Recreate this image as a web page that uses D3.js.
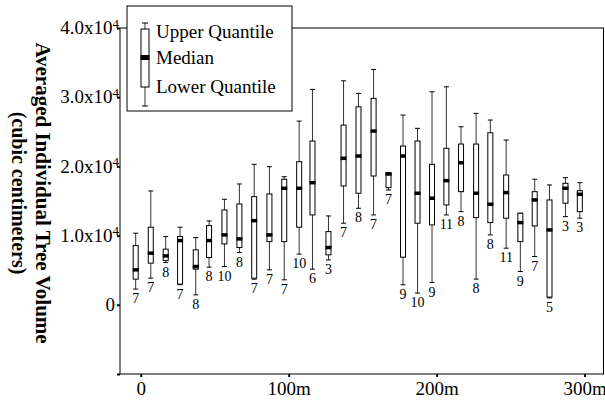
<!DOCTYPE html>
<html>
<head>
<meta charset="utf-8">
<style>
    body { margin: 0; background: #fff; }
    svg text { font-family: "Liberation Serif", "Times New Roman", serif; }
</style>
</head>
<body>
<svg id="chart" width="605" height="401"></svg>
<script src="https://d3js.org/d3.v7.min.js"></script>
<script>
    // distance along the transect (m) and box statistics (cubic cm)
    const positions = [-3.4, 6.8, 16.9, 26.6, 37.2, 46.2, 56.6, 66.7, 76.7, 87.0, 97.0, 107.1, 116.1, 126.9, 137.1, 147.2,
        157.4, 167.5, 177.3, 187.1, 196.9, 206.6, 216.5, 226.7, 236.3, 247.0, 256.6, 266.3, 276.3, 287.1, 296.8]
    const whiskerHigh = [10350, 16450, 9860, 11210, 9710, 12120, 15250, 17460, 20300, 19960, 18510, 26550, 31130, 12840, 32370, 30550,
        34010, 19090, 27420, 25500, 30780, 31500, 25730, 27660, 26700, 23810, 13230, 18140, 17320, 18370, 17650]
    const upperQ = [8560, 11210, 8040, 9860, 7940, 11440, 13710, 14570, 15630, 16020, 18140, 20680, 23670, 10580, 25970, 28610,
        29830, 19090, 22940, 23670, 20300, 22610, 23230, 23230, 24860, 18760, 13230, 16350, 15150, 17560, 16490]
    const median = [5050, 7460, 7070, 9280, 5530, 9280, 10100, 9520, 12160, 10100, 16840, 16840, 17650, 8270, 21170, 21500,
        25110, 18900, 21500, 16120, 15400, 17940, 20530, 16120, 14530, 16210, 11880, 15150, 10820, 16840, 15970]
    const lowerQ = [3710, 6020, 6390, 2990, 5150, 6830, 8800, 8270, 3850, 9130, 9130, 11210, 12990, 7220, 17170, 16120,
        18610, 16930, 6880, 11790, 11540, 14430, 16350, 12600, 11880, 12510, 9130, 11400, 1110, 14680, 13460]
    const whiskerLow = [2270, 3850, 6100, 2900, 1440, 5440, 5530, 7550, 3700, 5050, 3610, 7320, 5150, 6490, 11790, 13950,
        12990, 16590, 2890, 1690, 3220, 12990, 13460, 3710, 10100, 8180, 4810, 6970, 1000, 12740, 12510]
    const counts = [7, 7, 8, 7, 8, 8, 10, 8, 7, 7, 7, 10, 6, 3, 7, 8, 7, 7, 9, 10, 9, 11, 8, 8, 8, 11, 9, 7, 5, 3, 3]

    const xTicks = [0, 100, 200, 300]
    const xTickLabels = ["0", "100m", "200m", "300m"]
    const yTicks = [-10000, 0, 10000, 20000, 30000, 40000]
    const yTickLabels = ["", "0", "1.0x10", "2.0x10", "3.0x10", "4.0x10"]
    const yTickExp = ["", "", "4", "4", "4", "4"]
    const legendLabels = ["Upper Quantile", "Median", "Lower Quantile"]

    const boxes = positions.map((p, i) => ({
        pos: p, hi: whiskerHigh[i], q3: upperQ[i], med: median[i],
        q1: lowerQ[i], lo: whiskerLow[i], n: counts[i]
    }))

    let svg = d3.select("#chart")
    let plotLeft = 120, plotRight = 603.5, plotTop = 28, plotBottom = 374

    let x = d3.scaleLinear().domain([-14, 312.8]).range([plotLeft, plotRight])
    let y = d3.scaleLinear().domain([-10000, 40000]).range([plotBottom, plotTop])

    // frame
    svg.append("rect")
        .attr("x", plotLeft).attr("y", plotTop)
        .attr("width", plotRight - plotLeft).attr("height", plotBottom - plotTop)
        .attr("fill", "none").attr("stroke", "#000").attr("stroke-width", 1)

    // axes
    let yAxis = d3.axisLeft(y).tickValues(yTicks).tickSize(3).tickSizeOuter(0).tickFormat("")
    let yg = svg.append("g").attr("transform", `translate(${plotLeft},0)`).call(yAxis)
    yg.select(".domain").remove()
    yg.selectAll(".tick line").attr("stroke-width", 2)
    yg.selectAll(".tick text").remove()
    yg.selectAll(".tick").each(function (d, i) {
        let t = d3.select(this).append("text")
            .attr("x", yTickExp[i] ? -1 : -5).attr("dy", "0.3em")
            .attr("text-anchor", "end")
            .attr("fill", "#000")
            .style("font-size", "19px")
            .style("font-family", "'Liberation Serif', serif")
        t.append("tspan").text(yTickLabels[i])
        if (yTickExp[i]) {
            t.append("tspan").attr("dy", "-0.5em").style("font-size", "13px").text(yTickExp[i])
        }
    })

    let xAxis = d3.axisBottom(x).tickValues(xTicks).tickSize(3).tickSizeOuter(0)
        .tickFormat((d, i) => xTickLabels[i])
    let xg = svg.append("g").attr("transform", `translate(0,${plotBottom})`).call(xAxis)
    xg.select(".domain").remove()
    xg.selectAll(".tick line").attr("stroke-width", 2)
    xg.selectAll(".tick text")
        .attr("y", 8).attr("dy", "0.71em")
        .attr("fill", "#000")
        .style("font-size", "19px")
        .style("font-family", "'Liberation Serif', serif")

    // y axis title
    let title = svg.append("g").attr("transform", "translate(36,193) rotate(90)")
    title.append("text").attr("text-anchor", "middle")
        .style("font-size", "21px").style("font-weight", "bold")
        .text("Averaged Individual Tree Volume")
    title.append("text").attr("text-anchor", "middle").attr("y", 24)
        .style("font-size", "20px").style("font-weight", "bold")
        .text("(cubic centimeters)")

    // box plots
    let bw = 5
    let g = svg.selectAll(".box").data(boxes).enter().append("g").attr("class", "box")
    g.append("line")
        .attr("x1", d => x(d.pos)).attr("x2", d => x(d.pos))
        .attr("y1", d => y(d.hi)).attr("y2", d => y(d.lo))
        .attr("stroke", "#333").attr("stroke-width", 1)
    g.append("line")
        .attr("x1", d => x(d.pos) - 2.5).attr("x2", d => x(d.pos) + 2.5)
        .attr("y1", d => y(d.hi)).attr("y2", d => y(d.hi))
        .attr("stroke", "#000")
    g.append("line")
        .attr("x1", d => x(d.pos) - 2.5).attr("x2", d => x(d.pos) + 2.5)
        .attr("y1", d => y(d.lo)).attr("y2", d => y(d.lo))
        .attr("stroke", "#000")
    g.append("rect")
        .attr("x", d => x(d.pos) - bw / 2).attr("width", bw)
        .attr("y", d => y(d.q3)).attr("height", d => y(d.q1) - y(d.q3))
        .attr("fill", "#fff").attr("stroke", "#000").attr("stroke-width", 1)
    g.append("rect")
        .attr("x", d => x(d.pos) - bw / 2 - 0.5).attr("width", bw + 1)
        .attr("y", d => y(d.med) - 1.75).attr("height", 3.5)
        .attr("fill", "#000")
    g.append("text")
        .attr("x", d => x(d.pos)).attr("y", d => y(d.lo) + 14)
        .attr("text-anchor", "middle")
        .style("font-size", "14px")
        .text(d => d.n)

    // legend
    let legend = svg.append("g")
    legend.append("rect")
        .attr("x", 127).attr("y", 6).attr("width", 165).attr("height", 105)
        .attr("fill", "#fff").attr("stroke", "#000").attr("stroke-width", 1)
    let lx = 145
    legend.append("line").attr("x1", lx).attr("x2", lx).attr("y1", 23).attr("y2", 106).attr("stroke", "#333")
    legend.append("line").attr("x1", lx - 3).attr("x2", lx + 3).attr("y1", 23).attr("y2", 23).attr("stroke", "#000")
    legend.append("line").attr("x1", lx - 3).attr("x2", lx + 3).attr("y1", 106).attr("y2", 106).attr("stroke", "#000")
    legend.append("rect").attr("x", lx - 4).attr("y", 29).attr("width", 8).attr("height", 58)
        .attr("fill", "#fff").attr("stroke", "#000")
    legend.append("rect").attr("x", lx - 4.5).attr("y", 55).attr("width", 9).attr("height", 5).attr("fill", "#000")
    legend.selectAll(".lt").data(legendLabels).enter().append("text")
        .attr("x", 156).attr("y", (d, i) => [38, 64, 93][i])
        .style("font-size", "19px")
        .text(d => d)
</script>
</body>
</html>
